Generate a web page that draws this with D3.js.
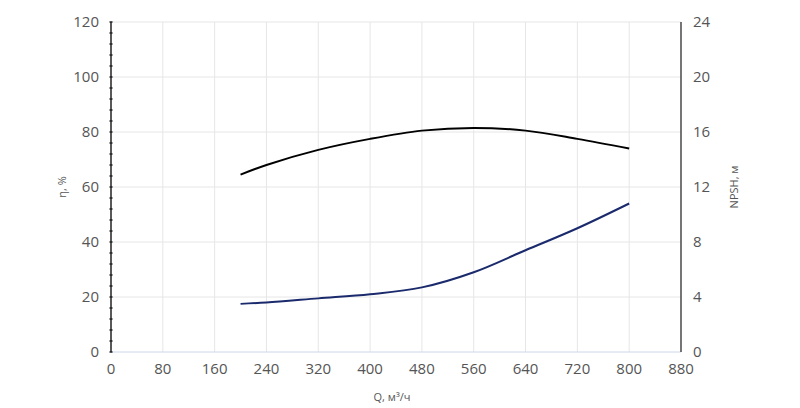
<!DOCTYPE html>
<html><head><meta charset="utf-8">
<script src="https://cdn.jsdelivr.net/npm/d3@7"></script>
<style>body{margin:0;background:#fff}text{font-family:"Open Sans",sans-serif}</style>
</head><body>
<script>
const xTicks = [0, 80, 160, 240, 320, 400, 480, 560, 640, 720, 800, 880];
const leftTicks = [0, 20, 40, 60, 80, 100, 120];
const rightTicks = [0, 4, 8, 12, 16, 20, 24];
const flowQ = [200, 240, 320, 400, 480, 560, 640, 720, 800];
const efficiency = [64.5, 68, 73.5, 77.5, 80.5, 81.5, 80.5, 77.5, 74];
const npsh = [3.5, 3.6, 3.9, 4.2, 4.7, 5.8, 7.4, 9.0, 10.8];

const width = 800, height = 408;
const m = {left: 111, right: 119, top: 22, bottom: 56};

let svg = d3.select('body').append('svg')
    .attr('width', width).attr('height', height);

let x = d3.scaleLinear().domain([0, 880]).range([m.left, width - m.right]);
let yL = d3.scaleLinear().domain([0, 120]).range([height - m.bottom, m.top]);
let yR = d3.scaleLinear().domain([0, 24]).range([height - m.bottom, m.top]);

// grid
svg.selectAll('.vg').data(xTicks.slice(1)).enter().append('line')
    .attr('x1', d => x(d)).attr('x2', d => x(d))
    .attr('y1', yL(0)).attr('y2', yL(120))
    .attr('stroke', '#e6e6e6');
svg.selectAll('.hg').data(leftTicks.slice(1)).enter().append('line')
    .attr('x1', x(0)).attr('x2', x(880))
    .attr('y1', d => yL(d)).attr('y2', d => yL(d))
    .attr('stroke', '#e6e6e6');

// x axis
svg.append('line').attr('x1', x(0)).attr('x2', x(880))
    .attr('y1', yL(0)).attr('y2', yL(0)).attr('stroke', '#ccd6eb');
svg.selectAll('.xt').data(xTicks).enter().append('text')
    .attr('x', d => x(d)).attr('y', yL(0) + 22)
    .attr('text-anchor', 'middle').attr('font-size', 15).attr('fill', '#555')
    .text(d => d);

// left axis with minor ticks
svg.append('line').attr('x1', x(0)).attr('x2', x(0))
    .attr('y1', yL(0)).attr('y2', yL(120)).attr('stroke', '#222').attr('stroke-width', 1.5);
svg.selectAll('.mt').data(d3.range(0, 121, 4)).enter().append('line')
    .attr('x1', x(0) - 1.5).attr('x2', x(0) + 1.5)
    .attr('y1', d => yL(d)).attr('y2', d => yL(d))
    .attr('stroke', '#222').attr('stroke-width', 1.5);
svg.selectAll('.lt').data(leftTicks).enter().append('text')
    .attr('x', x(0) - 12).attr('y', d => yL(d) + 5)
    .attr('text-anchor', 'end').attr('font-size', 15).attr('fill', '#555')
    .text(d => d);

// right axis
svg.append('line').attr('x1', x(880)).attr('x2', x(880))
    .attr('y1', yR(0)).attr('y2', yR(24)).attr('stroke', '#222').attr('stroke-width', 1.2);
svg.selectAll('.rt').data(rightTicks).enter().append('text')
    .attr('x', x(880) + 12).attr('y', d => yR(d) + 5)
    .attr('font-size', 15).attr('fill', '#555')
    .text(d => d);

// labels
svg.append('text').attr('x', 392).attr('y', 401).attr('text-anchor', 'middle')
    .attr('font-size', 11).attr('fill', '#555').text('Q, м³/ч');
svg.append('text').attr('transform', 'translate(66,' + yL(60) + ') rotate(-90)')
    .attr('text-anchor', 'middle').attr('font-size', 11).attr('fill', '#555').text('η, %');
svg.append('text').attr('transform', 'translate(738,' + yL(60) + ') rotate(-90)')
    .attr('text-anchor', 'middle').attr('font-size', 11).attr('fill', '#555').text('NPSH, м');

// curves
let effLine = d3.line().x((d, i) => x(flowQ[i])).y(d => yL(d)).curve(d3.curveCatmullRom);
let npshLine = d3.line().x((d, i) => x(flowQ[i])).y(d => yR(d)).curve(d3.curveCatmullRom);
svg.append('path').attr('d', effLine(efficiency))
    .attr('fill', 'none').attr('stroke', '#000').attr('stroke-width', 2);
svg.append('path').attr('d', npshLine(npsh))
    .attr('fill', 'none').attr('stroke', '#1a2a6c').attr('stroke-width', 2);
</script>
</body></html>
